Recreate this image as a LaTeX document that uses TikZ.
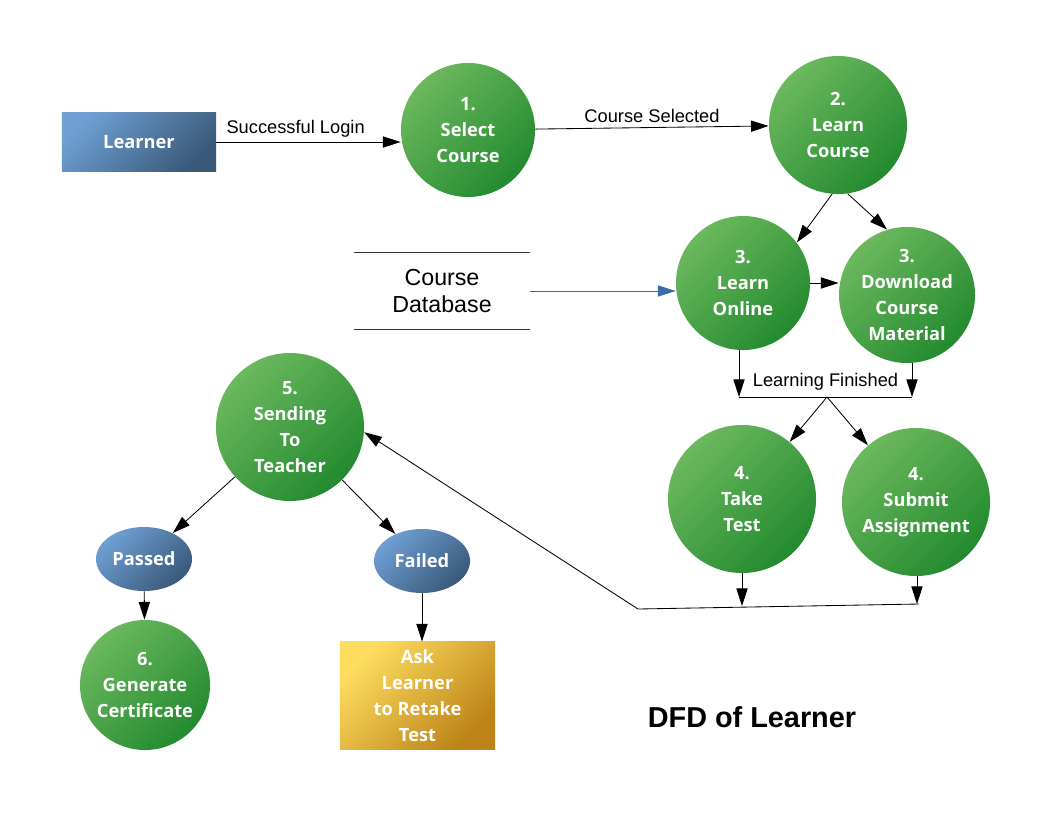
\documentclass[tikz,border=0pt]{standalone}
\usepackage{fontspec}
\setmainfont{Liberation Sans}
\newfontfamily\procfont{Open Sans}
\usetikzlibrary{shapes.geometric,arrows.meta}

\definecolor{greenlight}{HTML}{6CB85E}
\definecolor{greendark}{HTML}{238A2F}
\definecolor{bluelight}{HTML}{6E9FD3}
\definecolor{bluedark}{HTML}{3A5979}
\definecolor{goldlight}{HTML}{FDDC5E}
\definecolor{golddark}{HTML}{BD8318}
\definecolor{dbblue}{HTML}{3A6DA8}

\begin{document}
\begin{tikzpicture}[x=0.025cm,y=-0.025cm,line width=0.6pt,
  >={Triangle[length=4.4mm,width=2.8mm]},
  boxfont/.style={text=white,font=\procfont\bfseries\fontsize{13}{18.4}\selectfont},
  proc/.style={circle,minimum size=#1,inner sep=0pt,align=center,boxfont,
    top color=greenlight,bottom color=greendark,shading angle=45},
  entity/.style={rectangle,minimum width=3.85cm,minimum height=1.475cm,boxfont,
    top color=bluelight,bottom color=bluedark,shading angle=45},
  outcome/.style={ellipse,minimum width=2.4cm,minimum height=1.6cm,inner sep=0pt,boxfont,
    top color=bluelight,bottom color=bluedark,shading angle=45},
  retake/.style={rectangle,minimum width=3.875cm,minimum height=2.675cm,align=center,boxfont,
    fill=golddark,top color=goldlight,bottom color=golddark,shading angle=45},
  store/.style={minimum width=4.4cm,minimum height=1.9cm,inner sep=0pt,align=center,
    font=\fontsize{16.5}{19.2}\selectfont},
  lbl/.style={font=\fontsize{13}{15}\selectfont},
  heading/.style={font=\bfseries\fontsize{20.5}{24}\selectfont}]

  \useasboundingbox (0,0) rectangle (1056,816);

  % processes
  \node[entity] (learner) at (139,142) {Learner};
  \node[proc=3.35cm] (select) at (468,130) {1.\\Select\\Course};
  \node[proc=3.45cm] (learn) at (838,125) {2.\\Learn\\Course};
  \node[proc=3.35cm] (online) at (743,283) {3.\\Learn\\Online};
  \node[proc=3.4cm] (dl) at (907,295) {3.\\Download\\Course\\Material};
  \node[store] (db) at (442,291) {Course\\Database};
  \node[proc=3.7cm] (send) at (290,427) {5.\\Sending\\To\\Teacher};
  \node[proc=3.7cm] (test) at (742,499) {4.\\Take\\Test};
  \node[proc=3.7cm] (submit) at (916,502) {4.\\Submit\\Assignment};
  \node[outcome] (passed) at (144,559) {Passed};
  \node[outcome] (failed) at (422,561) {Failed};
  \node[proc=3.25cm] (cert) at (145,685) {6.\\Generate\\Certificate};
  \node[retake] (ask) at (417.5,695.5) {Ask\\Learner\\to Retake\\Test};
  \node[heading] (dfd) at (752,717) {DFD of Learner};

  % junction bars
  \coordinate (lfL) at (739,397);
  \coordinate (lfR) at (912,397);
  \coordinate (lfM) at (827,397);
  \coordinate (bl) at (638,609);
  \coordinate (br) at (919,604);
  \coordinate (tb) at (742,606);
  \coordinate (sb) at (917,604);

  % data store
  \draw[black!80] (db.north west) -- (db.north east);
  \draw[black!80] (db.south west) -- (db.south east);

  % flows
  \draw[->] (learner.east) -- node[lbl,above,pos=0.43] {Successful Login} (select.west |- learner.east);
  \draw[->] (select) -- node[lbl,above] {Course Selected} (learn);
  \draw[->] (learn.-95) -- (online.37);
  \draw[->] (learn.-82) -- (dl.107);
  \draw[->] (online.east) -- (online.east -| dl.west);
  \draw[->,dbblue] (db.east) -- (db.east -| online.west);

  \draw[->] (lfL |- online.south) -- (lfL);
  \draw[->] (lfR |- dl.south) -- (lfR);
  \draw (lfL) -- node[lbl,above=1pt] {Learning Finished} (lfR);
  \draw[->] (lfM) -- (test);
  \draw[->] (lfM) -- (submit);

  \draw[->] (test.south) -- (tb);
  \draw[->] (sb |- submit.south) -- (sb);
  \draw[->] (br) -- (bl) -- (send.-4);

  \draw[->] (send) -- (passed);
  \draw[->] (send) -- (failed);
  \draw[->] (passed) -- (cert);
  \draw[->] (failed.south) -- (failed.south |- ask.north);

\end{tikzpicture}
\end{document}
